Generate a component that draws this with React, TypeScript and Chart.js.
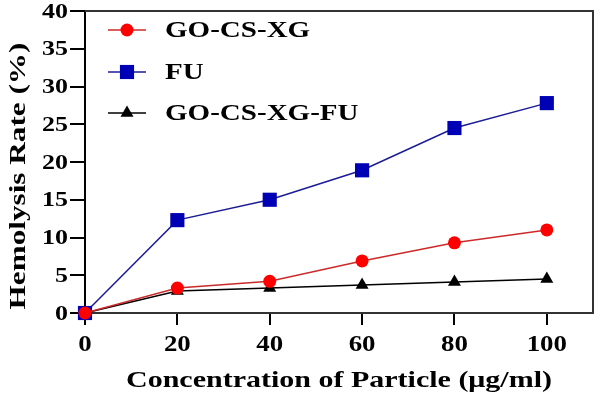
import React, { useEffect, useRef } from "react";
import { Chart, registerables } from "chart.js";

Chart.register(...registerables);

const concentrations = [0, 20, 40, 60, 80, 100];
const goCsXg = [0, 3.3, 4.2, 6.9, 9.3, 11.0];
const fu = [0, 12.3, 15.0, 18.9, 24.5, 27.8];
const goCsXgFu = [0, 2.9, 3.3, 3.7, 4.1, 4.5];
const xTickValues = [0, 20, 40, 60, 80, 100];
const seriesNames = ["GO-CS-XG", "FU", "GO-CS-XG-FU"];
const xTitle = "Concentration of Particle (μg/ml)";
const yTitle = "Hemolysis Rate (%)";

const FONT = "'Liberation Serif', 'Times New Roman', serif";

function stretchedText(ctx: any, text: string, x: number, y: number, size: number, sx: number, align: string, rot = 0) {
  ctx.save();
  ctx.font = `bold ${size}px ${FONT}`;
  ctx.fillStyle = "#000";
  ctx.textBaseline = "middle";
  ctx.textAlign = align;
  ctx.translate(x, y);
  if (rot) ctx.rotate(rot);
  ctx.scale(sx, 1);
  ctx.fillText(text, 0, 0);
  ctx.restore();
}

const boxPlugin = {
  id: "boxPlugin",
  beforeDatasetsDraw(chart: any) {
    const { ctx, chartArea } = chart;
    ctx.save();
    ctx.strokeStyle = "#333";
    ctx.lineWidth = 2;
    ctx.beginPath();
    ctx.moveTo(chartArea.left, chartArea.top);
    ctx.lineTo(chartArea.right, chartArea.top);
    ctx.lineTo(chartArea.right, chartArea.bottom);
    ctx.stroke();
    ctx.restore();
  },
};

const textPlugin = {
  id: "textPlugin",
  afterDraw(chart: any) {
    const { ctx, chartArea } = chart;
    const xs = chart.scales.x;
    const ys = chart.scales.y;
    ys.ticks.forEach((t: any) => {
      stretchedText(ctx, String(t.value), 68, ys.getPixelForValue(t.value) + 1, 22, 1.18, "right");
    });
    xs.ticks.forEach((t: any) => {
      stretchedText(ctx, String(t.value), xs.getPixelForValue(t.value), 345, 24, 1.12, "center");
    });
    stretchedText(ctx, xTitle, (chartArea.left + chartArea.right) / 2, 381, 24, 1.25, "center");
    stretchedText(ctx, yTitle, 19, 176, 24, 1.3, "center", -Math.PI / 2);
  },
};

const legendPlugin = {
  id: "customLegend",
  afterDraw(chart: any) {
    const { ctx } = chart;
    const rows = [30, 72, 113];
    chart.data.datasets.forEach((ds: any, i: number) => {
      const y = rows[i];
      const x0 = 108, x1 = 146, xm = 127;
      ctx.save();
      ctx.strokeStyle = ds.borderColor;
      ctx.lineWidth = 1.5;
      ctx.beginPath();
      ctx.moveTo(x0, y);
      ctx.lineTo(x1, y);
      ctx.stroke();
      ctx.fillStyle = ds.pointBackgroundColor;
      ctx.beginPath();
      const r = ds.pointRadius;
      if (ds.pointStyle === "circle") {
        ctx.arc(xm, y, r, 0, Math.PI * 2);
      } else if (ds.pointStyle === "rect") {
        const s = Math.SQRT1_2 * r;
        ctx.rect(xm - s, y - s, 2 * s, 2 * s);
      } else {
        const h = r;
        ctx.moveTo(xm, y - h);
        ctx.lineTo(xm + h * Math.sin(Math.PI / 3), y + h / 2);
        ctx.lineTo(xm - h * Math.sin(Math.PI / 3), y + h / 2);
        ctx.closePath();
      }
      ctx.fill();
      ctx.restore();
      stretchedText(ctx, ds.label, 165, y + 1, 24, 1.21, "left");
    });
  },
};

export default function App() {
  const ref = useRef<HTMLCanvasElement | null>(null);
  useEffect(() => {
    if (!ref.current) return;
    const mk = (vals: number[]) => concentrations.map((c, i) => ({ x: c, y: vals[i] }));
    const chart = new Chart(ref.current, {
      type: "line",
      data: {
        datasets: [
          {
            label: seriesNames[0],
            data: mk(goCsXg),
            borderColor: "#cc2a2a",
            borderWidth: 1.5,
            pointBackgroundColor: "#ff0000",
            pointBorderColor: "#ff1010",
            pointBorderWidth: 0,
            pointStyle: "circle",
            pointRadius: 6.5,
            clip: false,
            order: 0,
          },
          {
            label: seriesNames[1],
            data: mk(fu),
            borderColor: "#1c1c96",
            borderWidth: 1.5,
            pointBackgroundColor: "#0000b4",
            pointBorderColor: "#0000b4",
            pointBorderWidth: 0,
            pointStyle: "rect",
            pointRadius: 10,
            clip: false,
            order: 1,
          },
          {
            label: seriesNames[2],
            data: mk(goCsXgFu),
            borderColor: "#000",
            borderWidth: 1.5,
            pointBackgroundColor: "#000",
            pointBorderColor: "#000",
            pointBorderWidth: 0,
            pointStyle: "triangle",
            pointRadius: 7.5,
            clip: false,
            order: 2,
          },
        ],
      },
      options: {
        animation: false,
        responsive: false,
        layout: { padding: { top: 11, right: 13, left: 0, bottom: 0 } },
        plugins: { legend: { display: false }, tooltip: { enabled: false } },
        scales: {
          x: {
            type: "linear",
            min: 0,
            max: 110,
            afterBuildTicks: (s: any) => {
              s.ticks = xTickValues.map((v) => ({ value: v }));
            },
            afterFit: (s: any) => {
              s.height = 84;
              s.paddingLeft = 0;
              s.paddingRight = 0;
            },
            border: { display: true, color: "#333", width: 2 },
            grid: { display: true, drawOnChartArea: false, drawTicks: true, tickLength: 12, color: "#000", lineWidth: 2 },
            ticks: { display: false },
            title: { display: false },
          },
          y: {
            min: 0,
            max: 40,
            afterFit: (s: any) => {
              s.width = 85;
              s.paddingTop = 0;
              s.paddingBottom = 0;
            },
            border: { display: true, color: "#000", width: 2 },
            grid: { display: true, drawOnChartArea: false, drawTicks: true, tickLength: 15, color: "#000", lineWidth: 2 },
            ticks: { display: false, stepSize: 5 },
            title: { display: false },
          },
        },
      },
      plugins: [boxPlugin, textPlugin, legendPlugin],
    } as any);
    return () => chart.destroy();
  }, []);
  return (
    <div style={{ position: "fixed", left: 0, top: 0, width: 606, height: 397, background: "#fff" }}>
      <canvas ref={ref} width={606} height={397} />
    </div>
  );
}
